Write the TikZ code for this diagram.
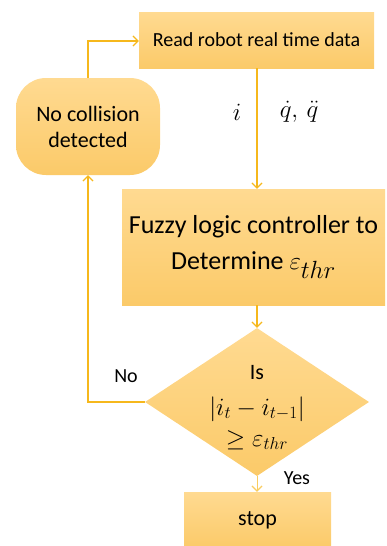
\documentclass[tikz,border=0pt]{standalone}
\usepackage{fontspec}
\setmainfont{Carlito}
\usetikzlibrary{arrows.meta,shapes.geometric}
\definecolor{lineC}{RGB}{246,184,28}
\definecolor{fillTop}{RGB}{255,218,145}
\definecolor{fillBot}{RGB}{251,202,105}
\tikzset{
  x=1pt,y=-1pt,
  boxfill/.style={top color=fillTop,bottom color=fillBot,draw=none},
  proc/.style={boxfill,rectangle,inner sep=0pt},
  conn/.style={draw=lineC,line width=1.2pt},
  arr/.style={conn,-{Straight Barb[length=5pt,width=10pt,line width=1.2pt]}},
  txt/.style={font=\fontsize{20}{24}\selectfont,inner sep=0pt},
  midtxt/.style={font=\fontsize{22}{26}\selectfont},
  mathtxt/.style={font=\fontsize{25}{30}\selectfont,inner sep=0pt},
  bigtxt/.style={font=\fontsize{26}{36}\selectfont},
}
\begin{document}
\begin{tikzpicture}
\useasboundingbox (0,0) rectangle (387,546);
% boxes
\node[proc,minimum width=235pt,minimum height=56pt,font=\fontsize{20}{24}\selectfont] (read) at (256.5,40) {Read robot real time data};
\node[proc,rounded corners=30pt,minimum width=144pt,minimum height=97pt,midtxt,align=center] (nocol) at (88,126.5) {No collision\\detected};
\node[proc,minimum width=263pt,minimum height=116pt,bigtxt,align=center] (fuzzy) at (253.5,247) {Fuzzy logic controller to\\Determine {\fontsize{34}{40}\selectfont$\varepsilon_{thr}$}};
\node[boxfill,diamond,aspect=1.51,minimum width=224pt,minimum height=148pt,inner sep=0pt] (dec) at (257,402) {};
\node[midtxt,inner sep=0pt] (dt1) at (257,373) {Is};
\node[mathtxt] (dt2) at (257,409) {$|i_t-i_{t-1}|$};
\node[mathtxt] (dt3) at (257,440) {$\geq\varepsilon_{thr}$};
\node[proc,minimum width=147pt,minimum height=56pt,midtxt] (stop) at (257.5,520) {stop};
% labels
\node[mathtxt] (li) at (237,112) {$i$};
\node[mathtxt] (lq) at (299,112) {$\dot q,\,\ddot q$};
\node[txt] (lno) at (126,376) {No};
\node[txt] (lyes) at (297,478) {Yes};
% connectors
\coordinate (c1) at (88,41);
\coordinate (c2) at (88,402);
\draw[arr] (nocol.north) -- (c1) -- (read.west |- c1);
\draw[arr] (read.south -| 257,0) -- (fuzzy.north -| 257,0);
\draw[arr] (fuzzy.south -| 257,0) -- (dec.north);
\draw[arr] (dec.west) -- (c2) -- (nocol.south);
\draw[arr,line width=0.6pt,draw=lineC!70] (dec.south) -- (stop.north -| dec.south);
\end{tikzpicture}
\end{document}
